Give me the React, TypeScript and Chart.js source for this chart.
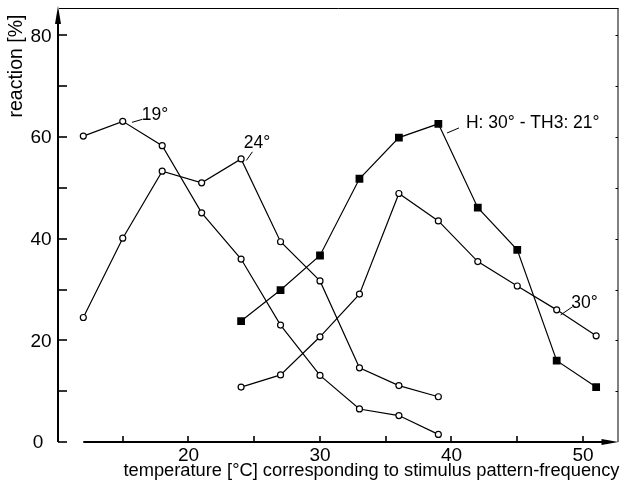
import React, { useEffect, useRef } from "react";
import Chart from "chart.js/auto";

// ---- data ----
const temps19_24 = [12, 15, 18, 21, 24, 27, 30, 33, 36, 39];
const reaction19 = [60.2, 63.1, 58.3, 45.1, 36.0, 23.0, 13.1, 6.5, 5.2, 1.5];
const reaction24 = [24.5, 40.1, 53.3, 51.0, 55.7, 39.4, 31.7, 14.6, 11.1, 8.9];
const temps30_H = [24, 27, 30, 33, 36, 39, 42, 45, 48, 51];
const reaction30 = [10.8, 13.2, 20.7, 29.1, 48.9, 43.5, 35.5, 30.7, 26.0, 20.9];
const reactionH = [23.8, 29.9, 36.7, 51.8, 59.9, 62.6, 46.1, 37.8, 16.0, 10.8];

const xTickLabels = [20, 30, 40, 50];
const xMinorTicks = [15, 20, 25, 30, 35, 40, 45, 50];
const yTickLabels = [0, 20, 40, 60, 80];
const yMinorTicks = [0, 10, 20, 30, 40, 50, 60, 70, 80];

const xTitle = "temperature [°C] corresponding to stimulus pattern-frequency";
const yTitle = "reaction [%]";

// annotation labels: text, text pos (data), leader from/to (data)
const annotations = [
  { text: "19°", x: 16.45, y: 64.3, l: [15.7, 62.9, 16.5, 63.5] },
  { text: "24°", x: 24.2, y: 58.9, l: [24.4, 55.4, 24.86, 57.1] },
  { text: "H: 30° - TH3: 21°", x: 41.1, y: 62.8, l: [39.66, 60.8, 40.57, 61.8] },
  { text: "30°", x: 49.1, y: 27.4, l: [48.3, 25.0, 49.2, 26.6] },
];

const FONT = "'Liberation Sans', 'DejaVu Sans', sans-serif";

const toPts = (xs: number[], ys: number[]) => xs.map((x, i) => ({ x, y: ys[i] }));

const axesPlugin = {
  id: "customAxes",
  afterDraw(chart: any) {
    const ctx = chart.ctx as CanvasRenderingContext2D;
    const xs = chart.scales.x;
    const ys = chart.scales.y;
    const { left, right, top, bottom } = chart.chartArea;
    ctx.save();
    ctx.strokeStyle = "#000";
    ctx.fillStyle = "#000";

    // top frame line
    ctx.lineWidth = 1;
    ctx.beginPath();
    ctx.moveTo(left + 2, top + 0.5);
    ctx.lineTo(right, top + 0.5);
    ctx.stroke();
    // right frame line
    ctx.beginPath();
    ctx.moveTo(right - 0.5, top);
    ctx.lineTo(right - 0.5, bottom);
    ctx.stroke();
    // right frame small ticks
    for (const v of yMinorTicks) {
      if (v === 0) continue;
      const py = Math.round(ys.getPixelForValue(v)) + 0.5;
      ctx.beginPath();
      ctx.moveTo(right - 0.5, py);
      ctx.lineTo(right - 3, py);
      ctx.stroke();
    }

    // y axis
    const ax = Math.round(xs.getPixelForValue(10.1));
    ctx.lineWidth = 2;
    ctx.beginPath();
    ctx.moveTo(ax, bottom);
    ctx.lineTo(ax, top + 10);
    ctx.stroke();
    ctx.beginPath();
    ctx.moveTo(ax, top - 2);
    ctx.lineTo(ax - 3, top + 16);
    ctx.lineTo(ax + 3, top + 16);
    ctx.closePath();
    ctx.fill();
    ctx.lineWidth = 1.6;
    for (const v of yMinorTicks) {
      const py = Math.round(ys.getPixelForValue(v));
      ctx.beginPath();
      ctx.moveTo(ax, py);
      ctx.lineTo(ax + 9, py);
      ctx.stroke();
    }
    ctx.font = `19px ${FONT}`;
    ctx.textAlign = "center";
    ctx.textBaseline = "middle";
    for (const v of yTickLabels) {
      const py = ys.getPixelForValue(v);
      ctx.fillText(String(v), v === 0 ? 38 : 41, py + 1);
    }

    // x axis
    const ay = Math.round(ys.getPixelForValue(0));
    const xStart = xs.getPixelForValue(12);
    ctx.lineWidth = 2;
    ctx.beginPath();
    ctx.moveTo(xStart, ay);
    ctx.lineTo(right - 12, ay);
    ctx.stroke();
    ctx.beginPath();
    ctx.moveTo(right, ay);
    ctx.lineTo(right - 17, ay - 3);
    ctx.lineTo(right - 17, ay + 3);
    ctx.closePath();
    ctx.fill();
    ctx.lineWidth = 1.6;
    for (const v of xMinorTicks) {
      const px = Math.round(xs.getPixelForValue(v));
      ctx.beginPath();
      ctx.moveTo(px, ay);
      ctx.lineTo(px, ay - 6);
      ctx.stroke();
    }
    ctx.textBaseline = "top";
    for (const v of xTickLabels) {
      const px = xs.getPixelForValue(v);
      ctx.fillText(String(v), px, ay + 4);
    }

    // x title
    ctx.font = `18.3px ${FONT}`;
    ctx.textAlign = "right";
    ctx.textBaseline = "alphabetic";
    ctx.fillText(xTitle, right + 1, ay + 34);

    // y title
    ctx.save();
    ctx.translate(17, 66);
    ctx.rotate(-Math.PI / 2);
    ctx.textAlign = "center";
    ctx.textBaseline = "middle";
    ctx.font = `19.5px ${FONT}`;
    ctx.fillText(yTitle, 0, 0);
    ctx.restore();

    // annotations
    ctx.font = `17.5px ${FONT}`;
    ctx.textAlign = "left";
    ctx.textBaseline = "middle";
    ctx.lineWidth = 1;
    for (const a of annotations) {
      ctx.fillText(a.text, xs.getPixelForValue(a.x), ys.getPixelForValue(a.y));
      ctx.beginPath();
      ctx.moveTo(xs.getPixelForValue(a.l[0]), ys.getPixelForValue(a.l[1]));
      ctx.lineTo(xs.getPixelForValue(a.l[2]), ys.getPixelForValue(a.l[3]));
      ctx.stroke();
    }
    ctx.restore();
  },
};

export default function App() {
  const ref = useRef<HTMLCanvasElement | null>(null);
  useEffect(() => {
    if (!ref.current) return;
    const open = {
      borderColor: "#000",
      borderWidth: 1.2,
      pointStyle: "circle",
      pointRadius: 3,
      pointBorderWidth: 1.2,
      pointBackgroundColor: "#fff",
      pointBorderColor: "#000",
      tension: 0,
      fill: false,
    };
    const chart = new Chart(ref.current, {
      type: "line",
      data: {
        datasets: [
          { label: "19°", data: toPts(temps19_24, reaction19), ...open },
          { label: "24°", data: toPts(temps19_24, reaction24), ...open },
          { label: "30°", data: toPts(temps30_H, reaction30), ...open },
          {
            label: "H: 30° - TH3: 21°",
            data: toPts(temps30_H, reactionH),
            borderColor: "#000",
            borderWidth: 1.2,
            pointStyle: "rect",
            pointRadius: 5.5,
            pointBorderWidth: 0,
            pointBackgroundColor: "#000",
            pointBorderColor: "#000",
            tension: 0,
            fill: false,
          },
        ] as any,
      },
      options: {
        animation: false,
        responsive: false,
        maintainAspectRatio: false,
        layout: { padding: { left: 57, right: 3, top: 8, bottom: 44 } },
        plugins: { legend: { display: false }, tooltip: { enabled: false } },
        scales: {
          x: { type: "linear", min: 10, max: 52.7, display: false },
          y: { type: "linear", min: 0, max: 85.4, display: false },
        },
      },
      plugins: [axesPlugin],
    });
    return () => chart.destroy();
  }, []);
  return (
    <div style={{ position: "absolute", left: 0, top: 0, width: 624, height: 486, background: "#fff" }}>
      <canvas ref={ref} width={624} height={486} style={{ width: 624, height: 486 }} />
    </div>
  );
}
